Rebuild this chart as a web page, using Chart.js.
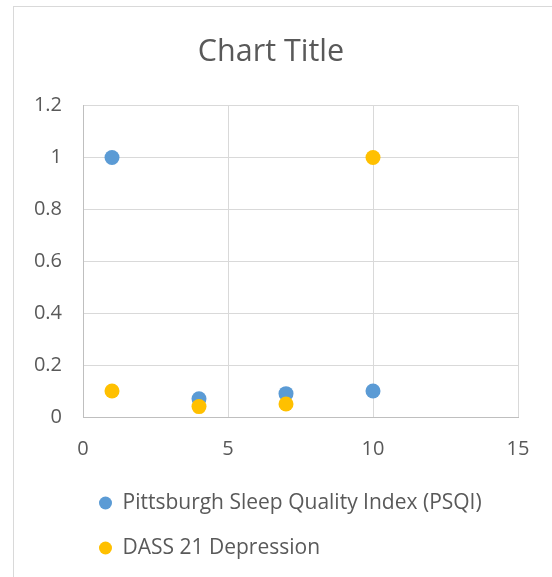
<!DOCTYPE html>
<html>
<head>
<meta charset="utf-8">
<script src="https://cdn.jsdelivr.net/npm/chart.js@4/dist/chart.umd.min.js"></script>
<style>
  html, body { margin: 0; padding: 0; background: #fff; overflow: hidden; }
  #frame {
    position: absolute; left: 13px; top: 6px;
    width: 620px; height: 640px;
    border: 1px solid #D9D9D9; background: #fff;
  }
  #chart { position: absolute; left: 0; top: 0; }
</style>
</head>
<body>
<div id="frame"><canvas id="chart" width="538" height="570"></canvas></div>
<script>
// Series: x position and value for each point
const xValues = [1, 4, 7, 10];
const psqiValues = [1, 0.07, 0.09, 0.1];
const dassValues = [0.1, 0.04, 0.05, 1];
const seriesNames = ['Pittsburgh Sleep Quality Index (PSQI)', 'DASS 21 Depression'];
const xTicks = [0, 5, 10, 15];
const yTicks = [0, 0.2, 0.4, 0.6, 0.8, 1, 1.2];

const toPoints = (vals) => xValues.map((x, i) => ({ x: x, y: vals[i] }));

const TEXT = '#595959';
Chart.defaults.font.family = "'Open Sans', sans-serif";
Chart.defaults.color = TEXT;

// Place the legend rows under the plot, left-aligned with the data
const legendPlacer = {
  id: 'legendPlacer',
  afterLayout(chart) {
    const lg = chart.legend;
    const dx = 61 - lg.left;
    const dy = 461.5 - lg.top;
    lg.left += dx; lg.right += dx;
    lg.top += dy; lg.bottom += dy;
  }
};

new Chart(document.getElementById('chart'), {
  type: 'scatter',
  data: {
    datasets: [
      {
        label: seriesNames[0],
        data: toPoints(psqiValues),
        backgroundColor: '#5B9BD5',
        borderWidth: 0,
        pointRadius: 7.5,
        pointHoverRadius: 7.5,
        order: 1
      },
      {
        label: seriesNames[1],
        data: toPoints(dassValues),
        backgroundColor: '#FFC000',
        borderWidth: 0,
        pointRadius: 7.5,
        pointHoverRadius: 7.5,
        order: 0
      }
    ]
  },
  options: {
    responsive: false,
    devicePixelRatio: 1,
    animation: false,
    layout: { padding: { left: 10, right: 34, top: 0, bottom: 0 } },
    plugins: {
      title: {
        display: true,
        text: 'Chart Title',
        color: TEXT,
        font: { size: 30.5, weight: 'normal' },
        padding: { top: 27, bottom: 35 }
      },
      legend: {
        position: 'bottom',
        align: 'start',
        labels: {
          usePointStyle: true,
          pointStyle: 'circle',
          boxWidth: 13,
          boxHeight: 9.2,
          padding: 24,
          color: TEXT,
          font: { size: 21 },
          sort: (a, b) => a.datasetIndex - b.datasetIndex
        }
      },
      tooltip: { enabled: false }
    },
    scales: {
      x: {
        type: 'linear',
        position: 'bottom',
        min: xTicks[0],
        max: xTicks[xTicks.length - 1],
        afterBuildTicks: (s) => { s.ticks = xTicks.map(v => ({ value: v })); },
        afterFit: (s) => { s.height = 60; },
        ticks: { padding: 20, font: { size: 20 }, color: TEXT, maxRotation: 0 },
        grid: { color: '#D9D9D9', lineWidth: 1, drawTicks: false },
        border: { color: '#BFBFBF', width: 1 }
      },
      y: {
        min: yTicks[0],
        max: yTicks[yTicks.length - 1],
        afterBuildTicks: (s) => { s.ticks = yTicks.map(v => ({ value: v })); },
        afterFit: (s) => { s.width = 59; },
        ticks: {
          padding: 21,
          font: { size: 20 },
          color: TEXT,
          callback: (v) => String(+v.toFixed(1))
        },
        grid: { color: '#D9D9D9', lineWidth: 1, drawTicks: false },
        border: { color: '#BFBFBF', width: 1 }
      }
    }
  },
  plugins: [legendPlacer]
});
</script>
</body>
</html>
